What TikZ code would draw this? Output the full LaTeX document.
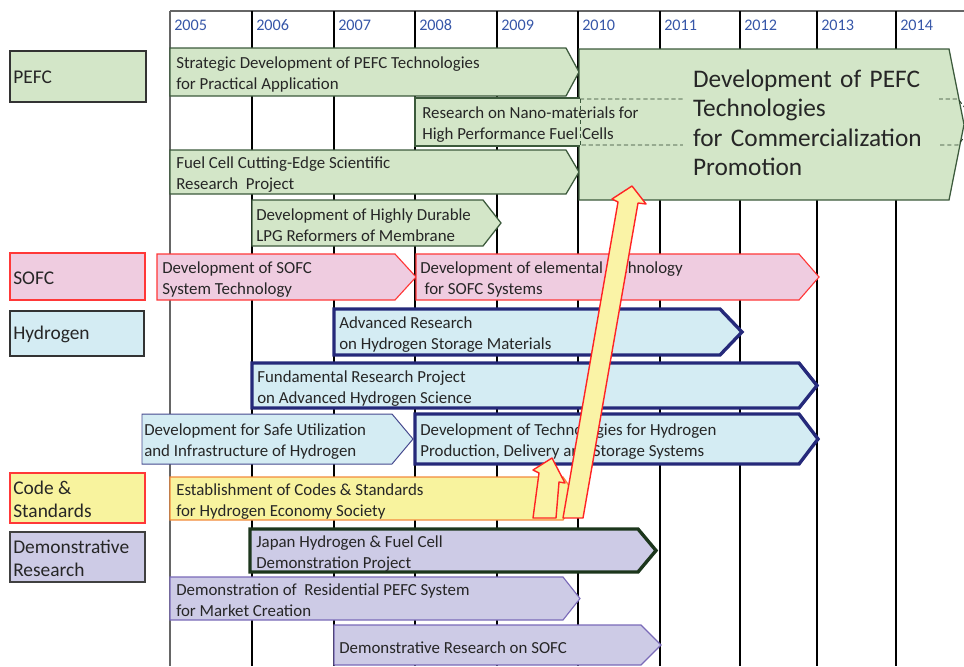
\documentclass[tikz,border=0pt]{standalone}
\usepackage{fontspec}
\setmainfont{Carlito}
\definecolor{txtgray}{HTML}{262626}
\definecolor{yearblue}{HTML}{3656A8}
\definecolor{pefcgreen}{HTML}{D3E6C8}
\definecolor{pefcline}{HTML}{3C5A3C}
\definecolor{sofcpink}{HTML}{EFCCE0}
\definecolor{sofcred}{HTML}{FF3838}
\definecolor{hydblue}{HTML}{D4ECF3}
\definecolor{hydnavy}{HTML}{25297A}
\definecolor{codeyellow}{HTML}{F8F39E}
\definecolor{codeorange}{HTML}{F28A3C}
\definecolor{demopurple}{HTML}{CDCBE6}
\definecolor{demoline}{HTML}{7A6AB8}
\definecolor{demogreen}{HTML}{1C361C}
\definecolor{arrowyellow}{HTML}{FAF3A6}
\definecolor{arrowred}{HTML}{FF2424}

% chevron bar: style, left, top, bottom, shoulder, tip
\newcommand{\chevron}[6]{%
  \filldraw[#1] (#2,#3) -- (#5,#3) -- (#6,{(#3+#4)/2}) -- (#5,#4) -- (#2,#4) -- cycle;}

\begin{document}
\begin{tikzpicture}[x=0.025cm,y=-0.025cm,
  lbl/.style={anchor=west,align=left,inner sep=0pt,yshift=-1.6pt,text=txtgray,font=\fontsize{12}{14.8}\selectfont},
  cat/.style={anchor=west,align=left,inner sep=0pt,text=txtgray,font=\fontsize{13.8}{16.4}\selectfont},
  year/.style={anchor=west,inner sep=0pt,text=yearblue,font=\fontsize{11.5}{13}\selectfont},
  pefcbar/.style={fill=pefcgreen,draw=pefcline,line width=0.9pt},
  sofcbar/.style={fill=sofcpink,draw=sofcred,line width=0.8pt},
  hydbar/.style={fill=hydblue,draw=hydnavy,line width=2.4pt},
  hydthin/.style={fill=hydblue,draw=hydnavy!85,line width=0.7pt},
  codebar/.style={fill=codeyellow,draw=codeorange,line width=0.9pt},
  demobar/.style={fill=demopurple,draw=demoline,line width=0.8pt},
  hlarrow/.style={fill=arrowyellow,draw=arrowred,line width=1pt,line join=round}]
\useasboundingbox (0,0) rectangle (964,666);

% year grid
\draw[black!60,line width=1.2pt] (170,11) -- (964,11);
\draw[black!60,line width=1pt] (170,11) -- (170,666);
\foreach \x in {252,334,415,497,578,660,740,817,896}
  \draw[black,line width=0.9pt] (\x,11) -- (\x,666);
\foreach \x/\yr in {170/2005,252/2006,334/2007,415/2008,497/2009,578/2010,660/2011,740/2012,817/2013,896/2014}
  \node[year] (y\yr) at (\x+4,25) {\yr};

% categories
\filldraw[fill=pefcgreen,draw=black!80,line width=0.8pt] (10,51) rectangle (146,102);
\node[cat] (pefc) at (13,77) {PEFC};
\filldraw[fill=sofcpink,draw=sofcred,line width=0.8pt] (10,253) rectangle (145,300);
\node[cat] (sofc) at (13,278) {SOFC};
\filldraw[fill=hydblue,draw=black!80,line width=0.8pt] (10,311) rectangle (144,356);
\node[cat] (hydrogen) at (13,334) {Hydrogen};
\filldraw[fill=codeyellow,draw=sofcred,line width=0.8pt] (10,473) rectangle (145,523);
\node[cat] (code) at (13,499.5) {Code \&\\Standards};
\filldraw[fill=demopurple,draw=black!75,line width=0.8pt] (10,532) rectangle (145,582);
\node[cat] (demo) at (13,558.5) {Demonstrative\\Research};

% PEFC
\chevron{pefcbar}{170}{48}{96}{566}{579}
\node[lbl] (strategic) at (176,72) {Strategic Development of PEFC Technologies\\for Practical Application};
\chevron{pefcbar}{170}{150}{194}{566}{579}
\node[lbl] (cutting) at (176,172) {Fuel Cell Cutting-Edge Scientific\\Research\ \ Project};
\chevron{pefcbar}{252}{200}{246}{483}{501}
\node[lbl] (durable) at (256,223) {Development of Highly Durable\\LPG Reformers of Membrane};
\chevron{pefcbar}{579}{49}{200}{949}{964}
\fill[pefcgreen] (415,98) rectangle (581,146);
\draw[pefcline,line width=0.9pt] (580,98) -- (415,98) -- (415,146) -- (580,146);
\draw[pefcline,line width=0.7pt,dash pattern=on 3pt off 2pt] (580,99) -- (580,145);
\draw[pefcline!70!black,line width=0.7pt,dash pattern=on 3pt off 2pt]
  (580,99) -- (958,99) -- (976,122) -- (958,145) -- (580,145);
\node[anchor=west,align=left,fill=pefcgreen,inner xsep=7pt,inner ysep=4pt,text width=168pt,
  text=txtgray,font=\fontsize{18}{21}\selectfont] (commercial) at (683,123)
  {Development of PEFC\\Technologies\\for Commercialization\\Promotion};
\node[lbl] (nano) at (422,122) {Research on Nano-materials for\\High Performance Fuel Cells};

% SOFC
\chevron{sofcbar}{157}{254}{300}{395}{416}
\node[lbl] (sofcsys) at (162,277) {Development of SOFC\\System Technology};
\chevron{sofcbar}{416}{254}{300}{799}{819}
\node[lbl] (elemental) at (420,277) {Development of elemental technology\\\hspace*{3pt}for SOFC Systems};

% Hydrogen
\chevron{hydbar}{334}{309}{355}{720}{742}
\node[lbl] (storage) at (339,332) {Advanced Research\\on Hydrogen Storage Materials};
\chevron{hydbar}{252}{363}{408}{799}{817}
\node[lbl] (fundamental) at (257,386) {Fundamental Research Project\\on Advanced Hydrogen Science};
\chevron{hydthin}{142}{414}{464}{392}{413}
\node[lbl] (safe) at (144,439) {Development for Safe Utilization\\and Infrastructure of Hydrogen};
\chevron{hydbar}{415}{414}{464}{799}{818}
\node[lbl] (production) at (420,439) {Development of Technologies for Hydrogen\\Production, Delivery and Storage Systems};

% Code & Standards
\chevron{codebar}{170}{477}{520}{563}{578}
\node[lbl] (codes) at (176,499) {Establishment of Codes \& Standards\\for Hydrogen Economy Society};

% Demonstrative research
\chevron{fill=demopurple,draw=demogreen,line width=2.4pt}{250}{529}{572}{638}{656}
\node[lbl] (japan) at (256,551) {Japan Hydrogen \& Fuel Cell\\Demonstration Project};
\chevron{demobar}{170}{577}{620}{563}{580}
\node[lbl] (residential) at (176,598) {Demonstration of\ \ Residential PEFC System\\for Market Creation};
\chevron{demobar}{334}{625}{665}{641}{661}
\node[lbl] (sofcdemo) at (339,645) {Demonstrative Research on SOFC};

% highlight arrows
\filldraw[hlarrow] (533,518) -- (539,473) -- (533,470) -- (552,458) -- (565,483) -- (559,482) -- (556,518) -- cycle;
\filldraw[hlarrow] (563,518) -- (618,202) -- (612,199) -- (632,186) -- (646,204) -- (638,203) -- (583,518) -- cycle;
\end{tikzpicture}
\end{document}
